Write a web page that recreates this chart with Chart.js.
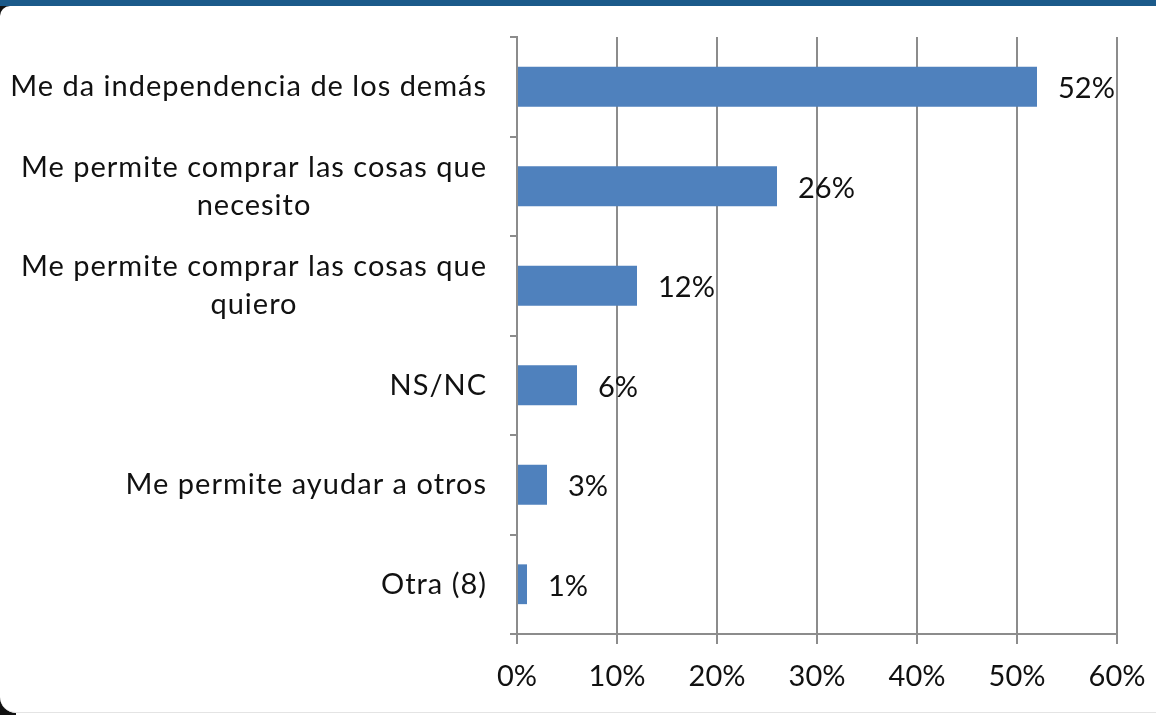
<!DOCTYPE html>
<html>
<head>
<meta charset="utf-8">
<script src="https://cdn.jsdelivr.net/npm/chart.js@4"></script>
<style>
  html, body { margin: 0; padding: 0; background: #fff; }
  #frame { position: relative; width: 1156px; height: 715px; background: #111; overflow: hidden; }
  #strip { position: absolute; left: 0; top: 0; width: 1156px; height: 6px; background: #1b5a8a; }
  #card { position: absolute; left: 0; top: 6px; width: 1156px; height: 706px; background: #fff;
          border-top-left-radius: 10px; border-bottom-left-radius: 16px; border-bottom: 1px solid #e4e4e4; }
  #foot { position: absolute; left: 16px; top: 713px; width: 1140px; height: 2px; background: #fff; }
  #wrap { position: absolute; left: 0; top: 0; width: 1156px; height: 715px; }
</style>
</head>
<body>
<div id="frame">
  <div id="strip"></div>
  <div id="card"></div>
  <div id="foot"></div>
  <div id="wrap"><canvas id="barChart" width="1156" height="715"></canvas></div>
</div>
<script>
// data
var categories = [
  ['Me da independencia de los demás'],
  ['Me permite comprar las cosas que', 'necesito'],
  ['Me permite comprar las cosas que', 'quiero'],
  ['NS/NC'],
  ['Me permite ayudar a otros'],
  ['Otra (8)']
];
var percents = [52, 26, 12, 6, 3, 1];
var xTicks = [0, 10, 20, 30, 40, 50, 60];

var FONT = 'Lato';
var gridColor = '#8c8c8c';

// category labels, lines centred on each other, block right-aligned (like excel)
var catLabels = {
  id: 'catLabels',
  afterDraw: function(chart) {
    var ctx = chart.ctx, y = chart.scales.y;
    ctx.save();
    ctx.font = '29px ' + FONT;
    ctx.letterSpacing = '1px';
    ctx.fillStyle = '#111';
    ctx.textAlign = 'center';
    ctx.textBaseline = 'middle';
    var lh = 38;
    categories.forEach(function(lines, i) {
      var maxW = 0;
      lines.forEach(function(l) { maxW = Math.max(maxW, ctx.measureText(l).width); });
      var cx = y.left + y.width - 30 - maxW / 2;
      var cy = y.getPixelForValue(i);
      var top = cy - (lines.length - 1) * lh / 2;
      lines.forEach(function(l, j) { ctx.fillText(l, cx, top + j * lh); });
    });
    ctx.restore();
  }
};

var valueLabels = {
  id: 'valueLabels',
  afterDatasetsDraw: function(chart) {
    var ctx = chart.ctx;
    ctx.save();
    ctx.font = '29px ' + FONT;
    ctx.fillStyle = '#111';
    ctx.textAlign = 'left';
    ctx.textBaseline = 'middle';
    chart.getDatasetMeta(0).data.forEach(function(bar, i) {
      ctx.fillText(percents[i] + '%', bar.x + 21, bar.y + 2);
    });
    ctx.restore();
  }
};

var ctx = document.getElementById('barChart').getContext('2d');
var barChart = new Chart(ctx, {
  type: 'bar',
  data: {
    labels: categories.map(function(c) { return c.join(' '); }),
    datasets: [{
      data: percents,
      backgroundColor: '#4f81bd',
      barPercentage: 0.4,
      categoryPercentage: 1
    }]
  },
  options: {
    indexAxis: 'y',
    responsive: false,
    animation: false,
    layout: { padding: { left: 0, top: 37, right: 39, bottom: 0 } },
    plugins: { legend: { display: false }, tooltip: { enabled: false } },
    scales: {
      x: {
        min: 0,
        max: 60,
        afterBuildTicks: function(s) { s.ticks = xTicks.map(function(v) { return { value: v }; }); },
        afterFit: function(s) {
          s.height = 715 - 634;
          s.paddingLeft = 0;
          s.paddingRight = 0;
        },
        grid: { color: gridColor, lineWidth: 2, tickLength: 10, drawTicks: true },
        border: { color: gridColor, width: 2 },
        ticks: {
          color: '#111',
          font: { family: FONT, size: 29 },
          padding: 15,
          maxRotation: 0,
          callback: function(v) { return v + '%'; }
        }
      },
      y: {
        afterFit: function(s) { s.width = 517; },
        grid: { offset: true, drawOnChartArea: false, color: gridColor, lineWidth: 2, tickLength: 7 },
        border: { color: gridColor, width: 2 },
        ticks: { display: false }
      }
    }
  },
  plugins: [catLabels, valueLabels]
});
</script>
</body>
</html>
